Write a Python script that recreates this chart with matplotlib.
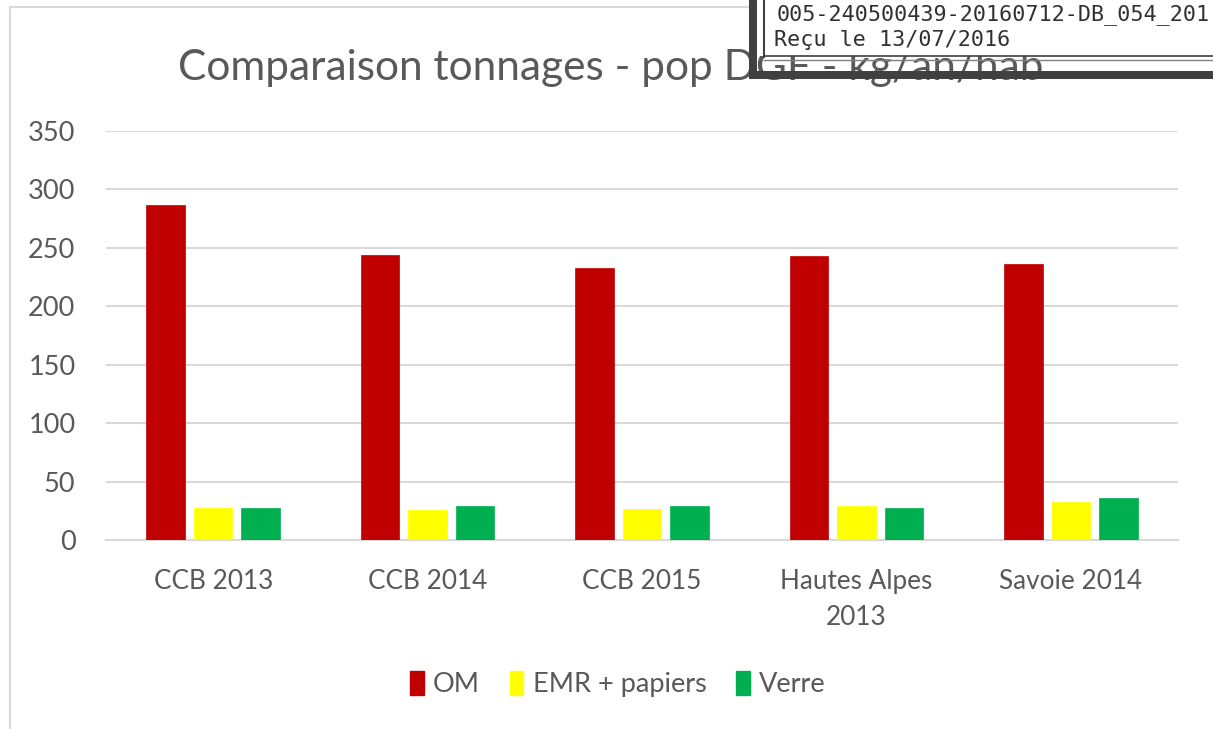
import matplotlib
matplotlib.use("Agg")
import matplotlib.pyplot as plt
from matplotlib.patches import Rectangle
from matplotlib.lines import Line2D
import numpy as np

categories = ["CCB 2013", "CCB 2014", "CCB 2015", "Hautes Alpes\n2013", "Savoie 2014"]
series_names = ["OM", "EMR + papiers", "Verre"]
om = [287, 244, 233, 243, 236]
emr = [27.5, 26, 26.3, 28.8, 32.8]
verre = [27.5, 29, 28.8, 27.7, 35.7]
yticks = [0, 50, 100, 150, 200, 250, 300, 350]
title = "Comparaison tonnages - pop DGF - kg/an/hab"
stamp_line1 = "005-240500439-20160712-DB_054_201"
stamp_line2 = "Reçu le 13/07/2016"

colors = ["#C00000", "#FFFF00", "#00B050"]
txt = "#595959"
W, H = 1213, 729
FONT = "Lato"

fig = plt.figure(figsize=(W / 100, H / 100), dpi=100)
fig.patch.set_facecolor("white")

# chart border
fig.add_artist(Rectangle((10 / W, 0 - 0.01), 1.1, 1 - 7 / H + 0.01, transform=fig.transFigure,
                         fill=False, edgecolor="#D9D9D9", linewidth=1.5))

ax = fig.add_axes([106 / W, (H - 540) / H, 1072 / W, 409 / H])
x = np.arange(len(categories))
stride = 0.2215
width = 0.18
for i, (vals, name, c) in enumerate(zip([om, emr, verre], series_names, colors)):
    ax.bar(x + (i - 1) * stride, vals, width, color=c, label=name, zorder=3,
           edgecolor=c, linewidth=0.5)

ax.set_xlim(-0.5, len(categories) - 0.5)
ax.set_ylim(0, 350)
ax.set_yticks(yticks)
ax.set_yticklabels([str(v) for v in yticks], fontsize=19.5, color=txt, family=FONT)
ax.set_xticks(x)
ax.set_xticklabels(categories, fontsize=18.8, color=txt, family=FONT, linespacing=1.55, va="top")
ax.tick_params(axis="both", length=0)
ax.tick_params(axis="y", pad=22)
ax.tick_params(axis="x", pad=21)
ax.grid(axis="y", color="#D9D9D9", linewidth=1.5, zorder=0)
ax.set_axisbelow(True)
for s in ["top", "right", "left"]:
    ax.spines[s].set_visible(False)
ax.spines["bottom"].set_color("#D9D9D9")
ax.spines["bottom"].set_linewidth(1.5)
ax.set_facecolor("none")

# title
fig.text(611 / W, 1 - 80 / H, title, ha="center", va="baseline", fontsize=30.5, color=txt, family=FONT)

# legend
handles = [Rectangle((0, 0), 1, 1, facecolor=c, edgecolor=c) for c in colors]
leg = fig.legend(handles, series_names, loc="center", bbox_to_anchor=(618 / W, 1 - 684 / H),
                 ncol=3, frameon=False, prop={"family": FONT, "size": 19.5},
                 handlelength=0.5, handleheight=1.0, handletextpad=0.35, columnspacing=1.1)
for t in leg.get_texts():
    t.set_color(txt)

# stamp overlay
dark = "#404040"
fig.add_artist(Rectangle((749 / W, 1 - 56 / H), 1, 56 / H, transform=fig.transFigure,
                         facecolor="white", edgecolor="none", zorder=10))
fig.add_artist(Rectangle((749 / W, 1 - 79 / H), 8 / W, 79 / H, transform=fig.transFigure,
                         facecolor=dark, edgecolor="none", zorder=11))
fig.add_artist(Rectangle((749 / W, 1 - 79 / H), 1, 8 / H, transform=fig.transFigure,
                         facecolor=dark, edgecolor="none", zorder=11))
fig.add_artist(Line2D([764 / W, 764 / W], [1 - 57 / H, 1.0], transform=fig.transFigure,
                      color=dark, linewidth=1.5, zorder=11))
fig.add_artist(Line2D([764 / W, 1.0], [1 - 56 / H, 1 - 56 / H], transform=fig.transFigure,
                      color=dark, linewidth=1.2, zorder=11))
fig.add_artist(Line2D([764 / W, 1.0], [1 - 59.5 / H, 1 - 59.5 / H], transform=fig.transFigure,
                      color="#808080", linewidth=1.0, zorder=11))
fig.text(777 / W, 1 - 15 / H, stamp_line1, ha="left", va="center", fontsize=15.7,
         family="DejaVu Sans Mono", color="#303030", zorder=12)
fig.text(774 / W, 1 - 40 / H, stamp_line2, ha="left", va="center", fontsize=15.7,
         family="DejaVu Sans Mono", color="#303030", zorder=12)

fig.savefig("out.png", dpi=100, facecolor="white")
